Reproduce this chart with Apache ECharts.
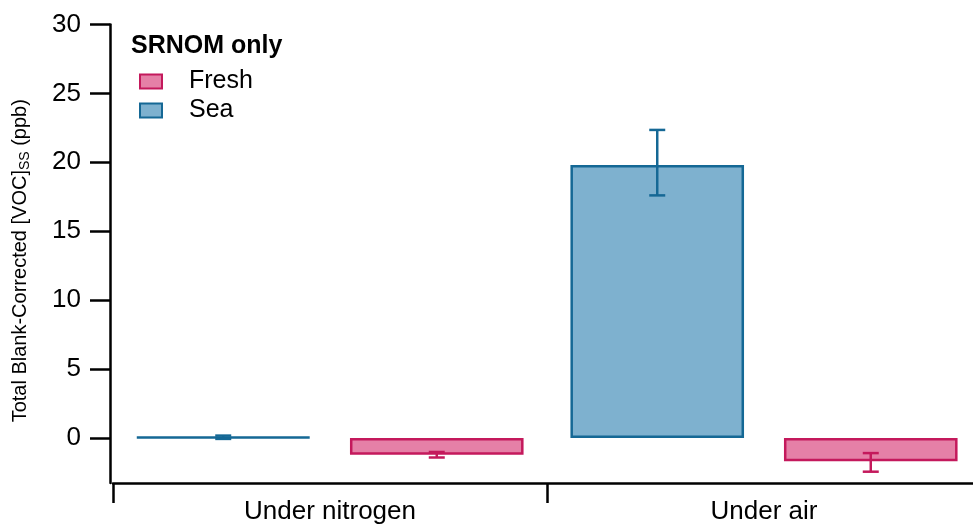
<!DOCTYPE html>
<html>
<head>
<meta charset="utf-8">
<script src="https://cdn.jsdelivr.net/npm/echarts@6/dist/echarts.min.js"></script>
<style>
html,body{margin:0;padding:0;background:#fff;}
#chart{width:973px;height:525px;}
</style>
</head>
<body>
<div id="chart"></div>
<script>
// ---- data ----
var categories = ['Under nitrogen', 'Under air'];
var seaValues = [0.05, 19.8];
var seaErrLow = [-0.07, 17.6];
var seaErrHigh = [0.17, 22.35];
var freshValues = [-1.22, -1.7];
var freshErrLow = [-1.42, -2.45];
var freshErrHigh = [-1.02, -1.1];
var yTicks = [0, 5, 10, 15, 20, 25, 30];

var FONT = "'Liberation Sans', Arial, sans-serif";
var seaFill = '#7EB1CF', seaLine = '#156895';
var freshFill = '#E580A7', freshLine = '#C4195C';

var BAR_W = 0.4, BAR_GAP = 0.23;

function errorSeries(name, low, high, color, side) {
  var data = low.map(function (l, i) { return [i, l, high[i]]; });
  return {
    type: 'custom',
    name: name + ' err',
    z: 5,
    silent: true,
    data: data,
    encode: { x: 0, y: [1, 2] },
    renderItem: function (params, api) {
      var ci = api.value(0);
      var pLow = api.coord([ci, api.value(1)]);
      var pHigh = api.coord([ci, api.value(2)]);
      var bw = api.size([1, 0])[0];
      var off = side * bw * (BAR_W + BAR_W * BAR_GAP) / 2;
      var x = pLow[0] + off;
      var cap = 8;
      var st = { stroke: color, lineWidth: 2.5 };
      return {
        type: 'group',
        children: [
          { type: 'line', shape: { x1: x, y1: pLow[1], x2: x, y2: pHigh[1] }, style: st },
          { type: 'line', shape: { x1: x - cap, y1: pLow[1], x2: x + cap, y2: pLow[1] }, style: st },
          { type: 'line', shape: { x1: x - cap, y1: pHigh[1], x2: x + cap, y2: pHigh[1] }, style: st }
        ]
      };
    }
  };
}

var chart = echarts.init(document.getElementById('chart'), null, { renderer: 'canvas' });
chart.setOption({
  animation: false,
  backgroundColor: '#fff',
  textStyle: { fontFamily: FONT },
  title: {
    text: 'SRNOM only',
    left: 131, top: 34, padding: 0,
    textStyle: { fontFamily: FONT, fontSize: 25, fontWeight: 'bold', color: '#000' }
  },
  legend: {
    data: ['Fresh', 'Sea'],
    orient: 'vertical',
    left: 139, top: 69, padding: 0,
    itemWidth: 22, itemHeight: 14,
    itemGap: 4,
    icon: 'rect',
    textStyle: { fontFamily: FONT, fontSize: 25, color: '#000', padding: [0, 0, 0, 22] }
  },
  grid: { left: 113, width: 868, top: 24.5, bottom: 42, containLabel: false, outerBoundsMode: 'none' },
  xAxis: {
    type: 'category',
    data: categories,
    axisLine: { onZero: false, lineStyle: { color: '#000', width: 2.5 } },
    axisTick: { show: true, length: 20, lineStyle: { color: '#000', width: 2.5 } },
    axisLabel: { color: '#000', fontFamily: FONT, fontSize: 26, margin: 16 },
    splitLine: { show: false }
  },
  yAxis: {
    type: 'value',
    min: -3.27, max: 30,
    offset: 3,
    name: 'Total Blank-Corrected [VOC]{sub|SS} (ppb)',
    nameLocation: 'middle',
    nameGap: 78,
    nameTextStyle: {
      fontFamily: FONT, fontSize: 20, color: '#000',
      padding: [0, 14, 0, 0],
      rich: { sub: { fontFamily: FONT, fontSize: 14, color: '#000', padding: [10, 0, 0, 0] } }
    },
    axisLine: { show: true, lineStyle: { color: '#000', width: 2.5 } },
    axisTick: { show: true, length: 20, lineStyle: { color: '#000', width: 2.5 }, customValues: yTicks },
    axisLabel: { color: '#000', fontFamily: FONT, fontSize: 26, margin: 29, customValues: yTicks },
    splitLine: { show: false }
  },
  series: [
    {
      name: 'Sea', type: 'bar', data: seaValues,
      barWidth: (BAR_W * 100) + '%', barGap: (BAR_GAP * 100) + '%',
      itemStyle: { color: seaFill, borderColor: seaLine, borderWidth: 2.5 },
      z: 2
    },
    {
      name: 'Fresh', type: 'bar', data: freshValues,
      barWidth: (BAR_W * 100) + '%', barGap: (BAR_GAP * 100) + '%',
      itemStyle: { color: freshFill, borderColor: freshLine, borderWidth: 2.5 },
      z: 2
    },
    errorSeries('Sea', seaErrLow, seaErrHigh, seaLine, -1),
    errorSeries('Fresh', freshErrLow, freshErrHigh, freshLine, 1)
  ]
});
</script>
</body>
</html>
